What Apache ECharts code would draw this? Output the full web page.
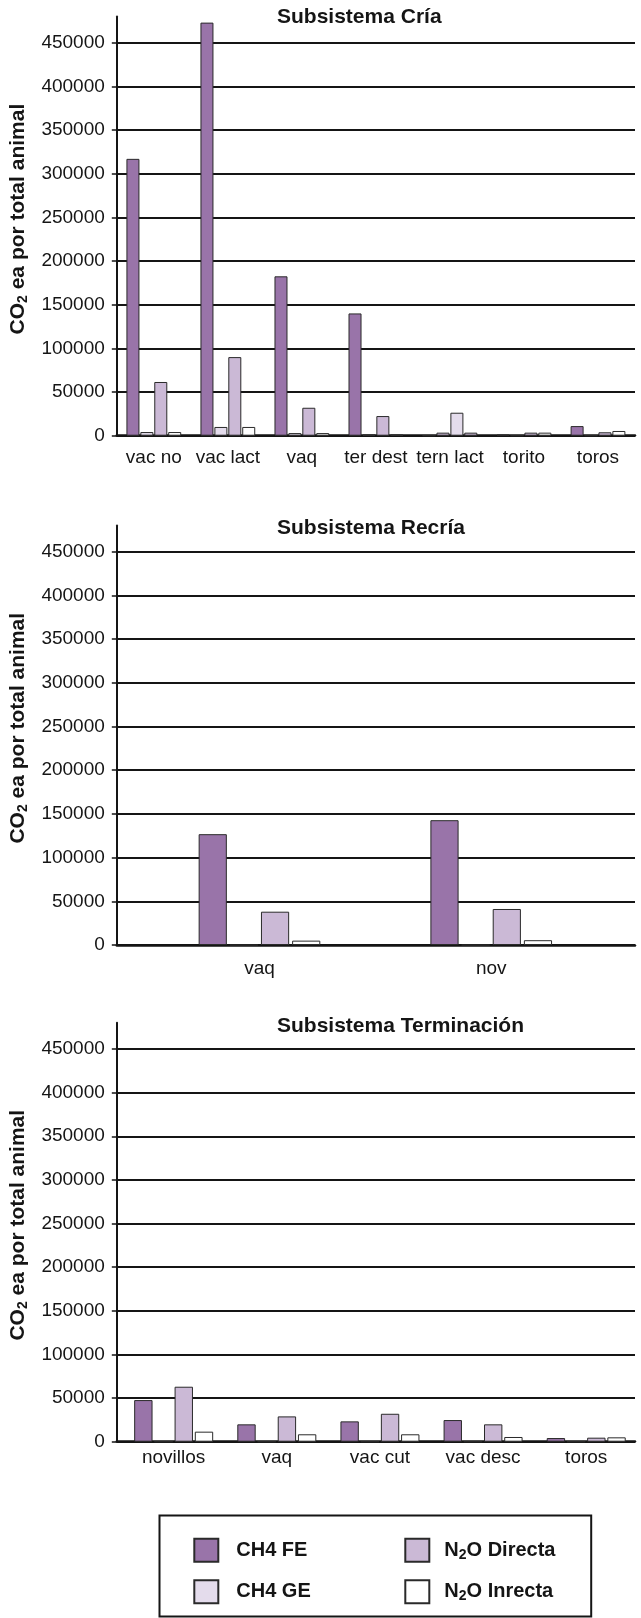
<!DOCTYPE html>
<html>
<head>
<meta charset="utf-8">
<script src="https://cdn.jsdelivr.net/npm/echarts@6/dist/echarts.min.js"></script>
<style>
  html, body { margin: 0; padding: 0; background: #ffffff; }
  #chart { width: 641px; height: 1618px; }
</style>
</head>
<body>
<div id="chart"></div>
<script>
// ---- Data: CO2 equivalent per total animal, by subsystem ----
const seriesNames = ['CH4 FE', 'CH4 GE', 'N2O Directa', 'N2O Inrecta'];

// Subsistema Cría
const criaCategories = ['vac no', 'vac lact', 'vaq', 'ter dest', 'tern lact', 'torito', 'toros'];
const criaCh4Fe      = [317000, 473000, 182500, 140000, 0, 1200, 11000];
const criaCh4Ge      = [4200, 10000, 3000, 1500, 3500, 0, 0];
const criaN2oDirecta = [61500, 90000, 32000, 22500, 26300, 3500, 3900];
const criaN2oInrecta = [4200, 10000, 3000, 1500, 3500, 3500, 5400];

// Subsistema Recría
const recriaCategories = ['vaq', 'nov'];
const recriaCh4Fe      = [126800, 142800];
const recriaCh4Ge      = [0, 0];
const recriaN2oDirecta = [38100, 41200];
const recriaN2oInrecta = [5000, 5500];

// Subsistema Terminación
const termCategories = ['novillos', 'vaq', 'vac cut', 'vac desc', 'toros'];
const termCh4Fe      = [47700, 19900, 23300, 24800, 4200];
const termCh4Ge      = [0, 0, 0, 0, 0];
const termN2oDirecta = [63000, 29000, 32000, 19900, 4600];
const termN2oInrecta = [11500, 8500, 8500, 5400, 5000];

// Value axis shared by the three panels
const yMin = 0;
const yMax = 480000;
const yStep = 50000;

// ---- Styling ----
const FONT = '"Liberation Sans", Arial, Helvetica, sans-serif';
const INK = '#151515';
const EDGE = '#2a2a2a';
const palette = {
  'CH4 FE': '#9974a9',
  'CH4 GE': '#e4dcec',
  'N2O Directa': '#cbb9d6',
  'N2O Inrecta': '#ffffff'
};
// In the Cría panel the "tern lact" group is filled with swapped shades
const criaShadeSwap = { 4: { 'CH4 GE': 'N2O Directa', 'N2O Directa': 'CH4 GE', 'N2O Inrecta': 'N2O Directa' } };

const panels = [
  {
    title: 'Subsistema Cría', titleTop: 7,
    categories: criaCategories,
    values: [criaCh4Fe, criaCh4Ge, criaN2oDirecta, criaN2oInrecta],
    frame: { left: 116, right: 6, top: 16.5, height: 419.2 },
    bars: null,
    labelMargin: 13, barGap: '7%', barCategoryGap: '26%',
    shadeSwap: criaShadeSwap
  },
  {
    title: 'Subsistema Recría', titleTop: 518,
    categories: recriaCategories,
    values: [recriaCh4Fe, recriaCh4Ge, recriaN2oDirecta, recriaN2oInrecta],
    frame: { left: 116, right: 6, top: 525.5, height: 419.5 },
    bars: { left: 143.6, right: 33.9 },
    labelMargin: 14, barGap: '10.5%', barCategoryGap: '47.5%',
    shadeSwap: null
  },
  {
    title: 'Subsistema Terminación', titleTop: 1015.5,
    categories: termCategories,
    values: [termCh4Fe, termCh4Ge, termN2oDirecta, termN2oInrecta],
    frame: { left: 116, right: 6, top: 1022.8, height: 418.9 },
    bars: { left: 122.1, right: 3.2 },
    labelMargin: 6.5, barGap: '10%', barCategoryGap: '23.4%',
    shadeSwap: null
  }
];

const catLabel = { show: true, interval: 0, fontFamily: FONT, fontSize: 19, color: INK };

const grids = [], xAxes = [], yAxes = [], series = [], titles = [];

panels.forEach(function (p) {
  titles.push({
    text: p.title, left: 277, top: p.titleTop, padding: 0,
    textStyle: { fontFamily: FONT, fontSize: 21, fontWeight: 'bold', color: INK }
  });

  // frame grid: value axis, gridlines and baseline
  const fi = grids.length;
  grids.push({ left: p.frame.left, right: p.frame.right, top: p.frame.top, height: p.frame.height });
  xAxes.push({
    type: 'category', gridIndex: fi, data: p.categories,
    axisLine: { show: true, lineStyle: { color: INK, width: 2.5 } },
    axisTick: { show: false },
    axisLabel: Object.assign({}, catLabel, { show: !p.bars, margin: p.labelMargin }),
    splitLine: { show: false }
  });
  yAxes.push({
    type: 'value', gridIndex: fi, min: yMin, max: yMax, interval: yStep,
    name: '{t|CO}{s|2}{t| ea por total animal}',
    nameLocation: 'middle', nameGap: 81,
    nameTextStyle: {
      padding: [0, 0, 0, 14],
      rich: {
        t: { fontFamily: FONT, fontSize: 21, fontWeight: 'bold', color: INK, lineHeight: 24 },
        s: { fontFamily: FONT, fontSize: 14, fontWeight: 'bold', color: INK, lineHeight: 13, verticalAlign: 'bottom' }
      }
    },
    axisLine: { show: true, lineStyle: { color: INK, width: 2 } },
    axisTick: { show: true, length: 5, lineStyle: { color: INK, width: 1.5 } },
    axisLabel: {
      margin: 12, fontFamily: FONT, fontSize: 19, color: INK, showMaxLabel: false,
      formatter: function (v) { return String(v); }
    },
    splitLine: { show: true, showMaxLine: false, lineStyle: { color: INK, width: 2 } }
  });

  // bar grid: shares the value range, places the category bands
  let bi = fi;
  if (p.bars) {
    bi = grids.length;
    grids.push({ left: p.bars.left, right: p.bars.right, top: p.frame.top, height: p.frame.height });
    xAxes.push({
      type: 'category', gridIndex: bi, data: p.categories,
      axisLine: { show: false }, axisTick: { show: false },
      axisLabel: Object.assign({}, catLabel, { margin: p.labelMargin }),
      splitLine: { show: false }
    });
    yAxes.push({ type: 'value', gridIndex: bi, min: yMin, max: yMax, interval: yStep, show: false });
  }

  seriesNames.forEach(function (name, k) {
    const data = p.values[k].map(function (v, i) {
      const swap = p.shadeSwap && p.shadeSwap[i] && p.shadeSwap[i][name];
      return swap ? { value: v, itemStyle: { color: palette[swap] } } : v;
    });
    series.push({
      type: 'bar', name: name, xAxisIndex: bi, yAxisIndex: bi, data: data,
      barGap: p.barGap, barCategoryGap: p.barCategoryGap,
      itemStyle: { color: palette[name], borderColor: EDGE, borderWidth: 1 },
      emphasis: { disabled: true }
    });
  });
});

// "N2O ..." is written with a subscript 2
function legendText(name) {
  if (name.indexOf('N2O') === 0) return '{t|N}{s|2}{t|' + name.slice(2) + '}';
  return '{t|' + name + '}';
}
const legendRich = {
  t: { fontFamily: FONT, fontSize: 20, fontWeight: 'bold', color: INK, lineHeight: 23 },
  s: { fontFamily: FONT, fontSize: 14, fontWeight: 'bold', color: INK, lineHeight: 13, verticalAlign: 'bottom' }
};
function legendColumn(left, names, gap) {
  return {
    left: left, top: 1537.7, orient: 'vertical', padding: 0,
    icon: 'rect', itemWidth: 24, itemHeight: 23, itemGap: 16.6,
    selectedMode: false, data: names, formatter: legendText,
    textStyle: { padding: [0, 0, 0, gap], rich: legendRich }
  };
}

const chart = echarts.init(document.getElementById('chart'), null, { renderer: 'canvas' });
chart.setOption({
  animation: false,
  backgroundColor: '#ffffff',
  title: titles,
  grid: grids,
  xAxis: xAxes,
  yAxis: yAxes,
  series: series,
  legend: [
    legendColumn(193.3, ['CH4 FE', 'CH4 GE'], 13),
    legendColumn(404.3, ['N2O Directa', 'N2O Inrecta'], 10)
  ],
  graphic: [{
    type: 'rect', silent: true,
    shape: { x: 159.5, y: 1515.5, width: 431.7, height: 101 },
    style: { fill: 'none', stroke: INK, lineWidth: 2 }
  }]
});
</script>
</body>
</html>
